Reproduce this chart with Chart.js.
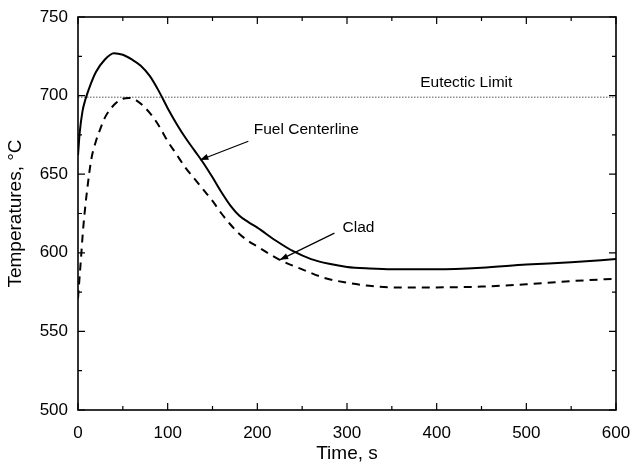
<!DOCTYPE html>
<html>
<head>
<meta charset="utf-8">
<script src="https://cdn.jsdelivr.net/npm/chart.js@4.4.1/dist/chart.umd.min.js"></script>
<style>
  html, body { margin: 0; padding: 0; background: #fff; }
  #wrap { width: 630px; height: 469px; }
</style>
</head>
<body>
<div id="wrap"><canvas id="myChart" width="630" height="469"></canvas></div>
<script>
// data
const fuelTime = [0, 2, 5, 8, 12, 20, 30, 40, 50, 60, 70, 80, 90, 100, 110, 120, 130, 140, 150, 160, 170, 180, 190, 200, 220, 240, 260, 280, 300, 325, 350, 400, 450, 500, 550, 600];
const fuelTemp = [662, 677, 690, 697, 704, 715, 723, 727, 726, 723, 719, 712.5, 703, 692, 682, 673, 665, 657, 648, 638.5, 630, 623.5, 619.5, 616, 608, 601, 596, 593, 591, 590, 589.5, 589.5, 590.5, 592.5, 594, 596];

const cladTime = [0, 3, 6, 10, 15, 20, 25, 30, 40, 50, 57, 65, 80, 90, 100, 110, 120, 130, 140, 150, 160, 170, 180, 190, 200, 225, 250, 275, 300, 325, 350, 400, 450, 500, 550, 600];
const cladTemp = [571, 594, 617, 639, 660, 671, 679, 686, 694, 698, 698.5, 697, 689, 681, 671, 662.5, 654, 647, 640, 633, 625, 618, 612, 607.5, 604, 595.5, 589.5, 584, 581, 579, 578, 578, 578.5, 580, 582, 583.5];

const eutecticLimit = 699;
const xTickValues = [0, 100, 200, 300, 400, 500, 600];
const yTickValues = [500, 550, 600, 650, 700, 750];

// text labels and arrows, placed in data units
const notes = [
  { text: 'Eutectic Limit', x: 433, y: 708, align: 'center' },
  { text: 'Fuel Centerline', x: 196, y: 678, align: 'left' },
  { text: 'Clad', x: 295, y: 616, align: 'left' }
];
const arrows = [
  { from: [190, 671], to: [136, 659] },
  { from: [286, 612.5], to: [225, 595.5] }
];

const FONT = "'Liberation Sans', Arial, sans-serif";

const toPoints = (xs, ys) => xs.map((x, i) => ({ x: x, y: ys[i] }));

const frame = {
  id: 'frame',
  afterDatasetsDraw(chart) {
    const { ctx, chartArea: a, scales: { x, y } } = chart;
    ctx.save();
    ctx.strokeStyle = '#000';
    ctx.lineWidth = 1.6;
    ctx.strokeRect(a.left, a.top, a.right - a.left, a.bottom - a.top);

    ctx.lineWidth = 1.2;
    ctx.beginPath();
    // x ticks (major + minor), bottom and top, pointing in
    for (let i = 0; i < xTickValues.length; i++) {
      const px = x.getPixelForValue(xTickValues[i]);
      ctx.moveTo(px, a.bottom); ctx.lineTo(px, a.bottom - 7);
      ctx.moveTo(px, a.top); ctx.lineTo(px, a.top + 7);
      if (i < xTickValues.length - 1) {
        const mx = x.getPixelForValue((xTickValues[i] + xTickValues[i + 1]) / 2);
        ctx.moveTo(mx, a.bottom); ctx.lineTo(mx, a.bottom - 4);
        ctx.moveTo(mx, a.top); ctx.lineTo(mx, a.top + 4);
      }
    }
    for (let i = 0; i < yTickValues.length; i++) {
      const py = y.getPixelForValue(yTickValues[i]);
      ctx.moveTo(a.left, py); ctx.lineTo(a.left + 7, py);
      ctx.moveTo(a.right, py); ctx.lineTo(a.right - 7, py);
      if (i < yTickValues.length - 1) {
        const my = y.getPixelForValue((yTickValues[i] + yTickValues[i + 1]) / 2);
        ctx.moveTo(a.left, my); ctx.lineTo(a.left + 4, my);
        ctx.moveTo(a.right, my); ctx.lineTo(a.right - 4, my);
      }
    }
    ctx.stroke();

    // notes
    ctx.fillStyle = '#000';
    ctx.font = '15.5px ' + FONT;
    ctx.textBaseline = 'middle';
    notes.forEach(n => {
      ctx.textAlign = n.align;
      ctx.fillText(n.text, x.getPixelForValue(n.x), y.getPixelForValue(n.y));
    });

    // arrows
    ctx.lineWidth = 1.2;
    arrows.forEach(ar => {
      const x0 = x.getPixelForValue(ar.from[0]), y0 = y.getPixelForValue(ar.from[1]);
      const x1 = x.getPixelForValue(ar.to[0]), y1 = y.getPixelForValue(ar.to[1]);
      const ang = Math.atan2(y1 - y0, x1 - x0);
      ctx.beginPath();
      ctx.moveTo(x0, y0); ctx.lineTo(x1, y1);
      ctx.stroke();
      ctx.beginPath();
      ctx.moveTo(x1, y1);
      ctx.lineTo(x1 - 9 * Math.cos(ang - 0.35), y1 - 9 * Math.sin(ang - 0.35));
      ctx.lineTo(x1 - 9 * Math.cos(ang + 0.35), y1 - 9 * Math.sin(ang + 0.35));
      ctx.closePath();
      ctx.fill();
    });
    ctx.restore();
  }
};

const ctx = document.getElementById('myChart');
new Chart(ctx, {
  type: 'line',
  data: {
    datasets: [
      {
        label: 'Fuel Centerline',
        data: toPoints(fuelTime, fuelTemp),
        borderColor: '#000',
        borderWidth: 2,
        pointRadius: 0,
        cubicInterpolationMode: 'monotone'
      },
      {
        label: 'Clad',
        data: toPoints(cladTime, cladTemp),
        borderColor: '#000',
        borderWidth: 2,
        borderDash: [8, 6],
        pointRadius: 0,
        cubicInterpolationMode: 'monotone'
      },
      {
        label: 'Eutectic Limit',
        data: [{ x: 0, y: eutecticLimit }, { x: 600, y: eutecticLimit }],
        borderColor: '#555',
        borderWidth: 1,
        borderDash: [1.5, 1.5],
        pointRadius: 0
      }
    ]
  },
  options: {
    responsive: false,
    animation: false,
    events: [],
    layout: { padding: { top: 17, right: 0, left: 0, bottom: 0 } },
    plugins: { legend: { display: false }, tooltip: { enabled: false } },
    scales: {
      x: {
        type: 'linear',
        min: 0,
        max: 600,
        afterBuildTicks: s => { s.ticks = xTickValues.map(v => ({ value: v })); },
        afterFit: s => { s.height = 59; s.paddingRight = 14; s.paddingLeft = 0; },
        grid: { display: false },
        border: { display: false },
        ticks: { color: '#000', padding: 5, maxRotation: 0, font: { family: FONT, size: 17 } },
        title: { display: true, text: 'Time, s', color: '#000', padding: { top: 4, bottom: 4 }, font: { family: FONT, size: 19 } }
      },
      y: {
        min: 500,
        max: 750,
        afterBuildTicks: s => { s.ticks = yTickValues.map(v => ({ value: v })); },
        afterFit: s => { s.width = 78; s.paddingTop = 0; s.paddingBottom = 0; },
        grid: { display: false },
        border: { display: false },
        ticks: { color: '#000', padding: 2, font: { family: FONT, size: 17 } },
        title: { display: true, text: 'Temperatures, °C', color: '#000', padding: { top: 4, bottom: 4 }, font: { family: FONT, size: 19 } }
      }
    }
  },
  plugins: [frame]
});
</script>
</body>
</html>
